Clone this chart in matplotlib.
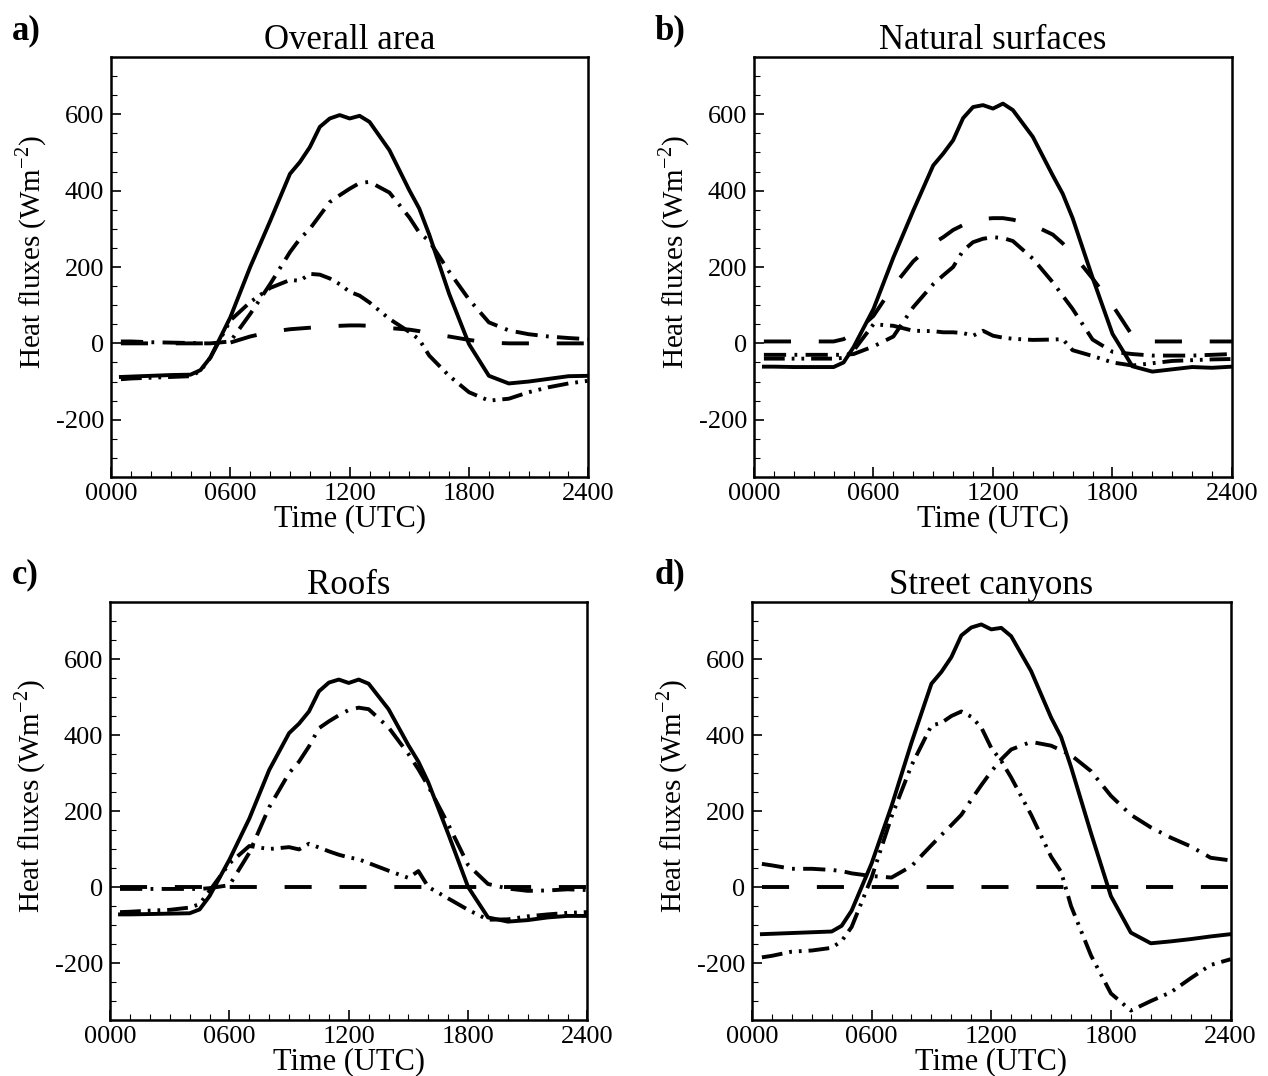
import numpy as np
import matplotlib
matplotlib.use('Agg')
import matplotlib.pyplot as plt
from matplotlib.ticker import MultipleLocator

plt.rcParams['font.family'] = ['Liberation Serif', 'DejaVu Serif']
plt.rcParams['axes.unicode_minus'] = False
plt.rcParams['lines.scale_dashes'] = False
plt.rcParams['mathtext.fontset'] = 'custom'
plt.rcParams['mathtext.rm'] = 'Liberation Serif'

# time of day (hours UTC)
t = [0.5, 1, 2, 3, 4, 4.5, 5, 6, 7, 8, 9, 9.5, 10, 10.5, 11, 11.5, 12, 12.5, 13,
     14, 15, 15.5, 16, 17, 18, 19, 20, 21, 22, 23, 24]

# a) overall area
qstar_a = [-88, -87, -85, -83, -82, -70, -37, 68, 200, 320, 444, 475, 514, 567, 589, 598,
           589, 596, 580, 506, 401, 353, 285, 130, -2, -85, -105, -100, -93, -86, -85]
qe_a = [0, 0, 0, 0, 0, 0, 0, 2, 18, 30, 37, 39, 41, 43, 45, 46,
        47, 47, 46, 40, 36, 32, 25, 18, 9, 2, 0, 0, 0, 0, 0]
qh_a = [5, 5, 3, 2, 1, 0, 0, 5, 77, 155, 239, 274, 300, 335, 370, 388,
        405, 420, 423, 395, 330, 290, 268, 188, 115, 55, 34, 24, 18, 14, 11]
dqs_a = [-94, -92, -90, -88, -86, -72, -37, 60, 108, 145, 166, 164, 182, 180, 170, 155,
         135, 125, 107, 64, 30, 10, -32, -85, -128, -150, -145, -128, -115, -105, -98]

# b) natural surfaces
qstar_b = [-61, -61, -62, -62, -62, -50, -10, 90, 225, 348, 466, 497, 532, 590, 619, 624,
           615, 628, 611, 541, 440, 392, 328, 172, 25, -60, -74, -68, -62, -64, -61]
qe_b = [5, 5, 5, 5, 5, 11, 25, 72, 150, 215, 262, 278, 297, 310, 320, 326,
        328, 328, 324, 310, 285, 262, 235, 170, 100, 20, 5, 5, 5, 5, 5]
qh_b = [-30, -30, -30, -30, -30, -30, -28, -8, 18, 95, 155, 178, 200, 243, 265, 274,
        278, 276, 268, 222, 160, 125, 90, 10, -22, -28, -32, -32, -32, -30, -28]
dqs_b = [-40, -40, -40, -40, -40, -38, -19, 50, 46, 33, 32, 29, 29, 27, 20, 33,
         20, 15, 12, 9, 10, 11, -18, -33, -50, -58, -52, -46, -44, -42, -41]

# c) roofs
qstar_c = [-72, -72, -71, -70, -69, -59, -24, 72, 180, 308, 405, 430, 462, 515, 538, 546,
           537, 546, 535, 468, 373, 330, 275, 140, 0, -80, -91, -87, -80, -76, -76]
qe_c = [0] * 31
qh_c = [-5, -5, -5, -5, -5, -5, -3, 5, 90, 210, 300, 330, 370, 418, 436, 452,
        466, 472, 468, 420, 350, 310, 265, 165, 58, 8, -4, -10, -9, -6, -8]
dqs_c = [-66, -65, -62, -60, -54, -45, -10, 62, 108, 100, 105, 99, 114, 104, 94, 85,
         78, 73, 63, 43, 24, 42, 0, -30, -60, -86, -85, -77, -72, -68, -66]

# d) street canyons
qstar_d = [-124, -123, -121, -119, -117, -102, -62, 62, 213, 380, 535, 566, 605, 662, 683, 691,
           678, 682, 660, 568, 446, 395, 316, 142, -24, -120, -148, -143, -137, -130, -124]
qe_d = [0] * 31
qh_d = [61, 57, 48, 48, 45, 42, 36, 29, 25, 55, 110, 137, 163, 190, 230, 268,
        304, 336, 362, 382, 372, 360, 347, 305, 240, 190, 157, 130, 107, 77, 70]
dqs_d = [-185, -181, -170, -167, -160, -142, -105, 25, 185, 320, 425, 432, 450, 462, 448, 420,
         366, 332, 288, 190, 80, 40, -50, -180, -280, -325, -300, -277, -240, -205, -190]

titles = ['Overall area', 'Natural surfaces', 'Roofs', 'Street canyons']
letters = ['a)', 'b)', 'c)', 'd)']
xtick_labels = ['0000', '0600', '1200', '1800', '2400']

fig = plt.figure(figsize=(12.68, 10.76), dpi=100)

# axes boxes [left, bottom, width, height]
boxes = [[0.0875, 0.5567, 0.3765, 0.3903],
         [0.5946, 0.5567, 0.3770, 0.3903],
         [0.0868, 0.0520, 0.3765, 0.3885],
         [0.5930, 0.0520, 0.3775, 0.3885]]
letter_pos = [(0.009, 0.963), (0.516, 0.963), (0.009, 0.458), (0.516, 0.458)]

series = [(qstar_a, qe_a, qh_a, dqs_a), (qstar_b, qe_b, qh_b, dqs_b),
          (qstar_c, qe_c, qh_c, dqs_c), (qstar_d, qe_d, qh_d, dqs_d)]

lw = 2.8
for i in range(4):
    ax = fig.add_axes(boxes[i])
    qs, qe, qh, dqs = series[i]
    ax.plot(t, qs, color='black', lw=lw)
    ax.plot(t, qe, color='black', lw=lw, dashes=(19.5, 20))
    ax.plot(t, qh, color='black', lw=lw, dashes=(16, 6, 2, 6))
    ax.plot(t, dqs, color='black', lw=lw, dashes=(15, 5, 2, 5, 2, 5))

    ax.set_xlim(0, 24)
    ax.set_ylim(-350, 750)
    ax.set_xticks([0, 6, 12, 18, 24])
    ax.set_xticklabels(xtick_labels)
    ax.xaxis.set_minor_locator(MultipleLocator(1))
    ax.set_yticks([-200, 0, 200, 400, 600])
    ax.yaxis.set_minor_locator(MultipleLocator(50))
    ax.tick_params(which='both', direction='in', labelsize=19, width=1.2)
    ax.tick_params(which='major', length=7)
    ax.tick_params(which='minor', length=4, width=0.8)
    ax.tick_params(axis='x', pad=4)
    ax.tick_params(axis='y', pad=5)
    for s in ax.spines.values():
        s.set_linewidth(1.8)

    ax.set_title(titles[i], fontsize=25, pad=6)
    ax.set_xlabel('Time (UTC)', fontsize=22, labelpad=0)
    ax.set_ylabel('Heat fluxes (Wm$^{\\mathregular{-2}}$)', fontsize=21)
    ax.yaxis.set_label_coords(-0.13, 0.536)

    fig.text(letter_pos[i][0], letter_pos[i][1], letters[i], fontsize=25,
             fontweight='bold', va='baseline')

fig.savefig('out.png', dpi=100)
